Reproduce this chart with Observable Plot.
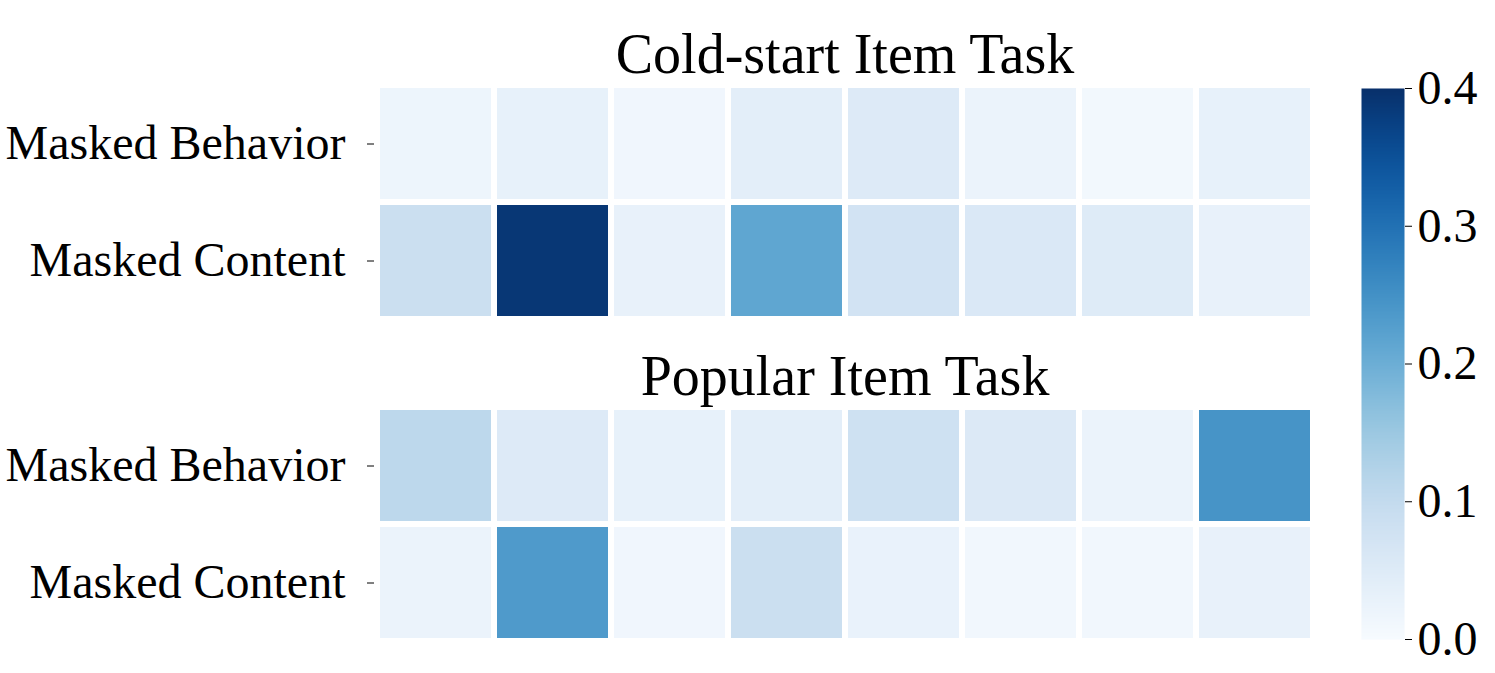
<!DOCTYPE html>
<html>
<head>
<meta charset="utf-8">
<script src="https://cdn.jsdelivr.net/npm/d3@7"></script>
<script src="https://cdn.jsdelivr.net/npm/@observablehq/plot@0.6"></script>
<style>
  body { margin: 0; background: white; }
  #wrap { position: relative; width: 1495px; height: 673px; background: white; }
  #wrap > svg { position: absolute; top: 0; }
</style>
</head>
<body>
<div id="wrap"></div>
<script>
const tasks = ["Cold-start Item Task", "Popular Item Task"];
const rows = ["Masked Behavior", "Masked Content"];
const columns = ["1", "2", "3", "4", "5", "6", "7", "8"];
const coldBehavior = [0.02, 0.032, 0.015, 0.04, 0.052, 0.025, 0.01, 0.032];
const coldContent = [0.088, 0.39, 0.03, 0.215, 0.075, 0.058, 0.05, 0.03];
const popularBehavior = [0.11, 0.052, 0.032, 0.04, 0.082, 0.055, 0.025, 0.245];
const popularContent = [0.025, 0.235, 0.015, 0.088, 0.028, 0.013, 0.013, 0.03];
const colorTicks = [0, 0.1, 0.2, 0.3, 0.4];
const colorDomain = [0, 0.4];

const series = [
  [tasks[0], rows[0], coldBehavior],
  [tasks[0], rows[1], coldContent],
  [tasks[1], rows[0], popularBehavior],
  [tasks[1], rows[1], popularContent]
];
const data = series.flatMap(([task, row, vals]) =>
  vals.map((v, i) => ({task, row, col: columns[i], value: v}))
);

const font = "'Liberation Serif', 'Times New Roman', serif";

const heat = Plot.plot({
  width: 1340,
  height: 673,
  marginLeft: 374,
  marginRight: 25,
  marginTop: 85,
  marginBottom: 31,
  style: {fontFamily: font, fontSize: "48px", color: "black", background: "transparent"},
  x: {domain: columns, padding: 0, axis: null},
  y: {domain: rows, padding: 0},
  fy: {domain: tasks, paddingInner: 0.273, paddingOuter: 0, axis: null},
  color: {type: "linear", scheme: "blues", domain: colorDomain},
  marks: [
    Plot.cell(data, {x: "col", y: "row", fy: "task", fill: "value", inset: 3}),
    Plot.axisY({tickSize: 7, tickPadding: 22, label: null, fontSize: 48}),
    Plot.text(tasks, {fy: d => d, text: d => d, frameAnchor: "top", lineAnchor: "bottom", dy: -13, fontSize: 56, fill: "black"})
  ]
});
heat.style.left = "0px";

const bar = Plot.plot({
  width: 155,
  height: 673,
  marginLeft: 21,
  marginRight: 91,
  marginTop: 88,
  marginBottom: 34,
  style: {fontFamily: font, fontSize: "48px", color: "black", background: "transparent"},
  x: {domain: [0, 1], axis: null},
  y: {domain: colorDomain, axis: null},
  color: {type: "linear", scheme: "blues", domain: colorDomain},
  marks: [
    Plot.raster({fill: (x, y) => y, x1: 0, x2: 1, y1: colorDomain[0], y2: colorDomain[1], width: 1, height: 400}),
    Plot.axisY({anchor: "right", ticks: colorTicks, tickFormat: d3.format(".1f"), tickSize: 7, tickPadding: 6, label: null, fontSize: 48})
  ]
});
bar.style.left = "1340px";

const wrap = document.getElementById("wrap");
wrap.append(heat, bar);
</script>
</body>
</html>
